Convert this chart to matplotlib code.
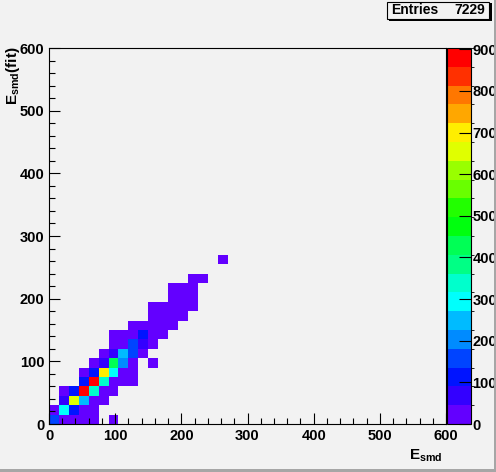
import numpy as np
import matplotlib.pyplot as plt
import colorsys
from matplotlib.colors import ListedColormap, BoundaryNorm
from matplotlib.ticker import MultipleLocator
from matplotlib.patches import Rectangle

plt.rcParams['font.family'] = 'Liberation Sans'
plt.rcParams['font.weight'] = 'bold'
plt.rcParams['mathtext.fontset'] = 'custom'
plt.rcParams['mathtext.rm'] = 'Liberation Sans:bold'
plt.rcParams['mathtext.it'] = 'Liberation Sans:bold'
plt.rcParams['mathtext.bf'] = 'Liberation Sans:bold'

# filled bins (bin index along E_smd, bin index along E_smd(fit), content), 15 units per bin
bin_x = [0, 1, 2, 3, 4, 6,
         0, 1, 2, 3, 4,
         1, 2, 3, 4, 5,
         1, 2, 3, 4, 5, 6,
         3, 4, 5, 6, 7, 8,
         3, 4, 5, 6, 7, 8,
         4, 5, 6, 7, 8, 10,
         5, 6, 7, 8, 9,
         6, 7, 8, 9, 10,
         6, 7, 8, 9, 10, 11,
         8, 9, 10, 11, 12,
         10, 11, 12, 13,
         10, 11, 12, 13, 14,
         12, 13, 14,
         12, 13, 14,
         14, 15,
         17]
bin_y = [0, 0, 0, 0, 0, 0,
         1, 1, 1, 1, 1,
         2, 2, 2, 2, 2,
         3, 3, 3, 3, 3, 3,
         4, 4, 4, 4, 4, 4,
         5, 5, 5, 5, 5, 5,
         6, 6, 6, 6, 6, 6,
         7, 7, 7, 7, 7,
         8, 8, 8, 8, 8,
         9, 9, 9, 9, 9, 9,
         10, 10, 10, 10, 10,
         11, 11, 11, 11,
         12, 12, 12, 12, 12,
         13, 13, 13,
         14, 14, 14,
         15, 15,
         17]
counts = [160, 20, 15, 12, 8, 3,
          12, 290, 110, 15, 10,
          70, 650, 250, 20, 8,
          12, 110, 903, 335, 15, 10,
          120, 903, 340, 15, 8, 5,
          12, 115, 700, 300, 15, 8,
          8, 70, 430, 200, 12, 2,
          12, 65, 250, 160, 15,
          8, 8, 150, 60, 5,
          3, 8, 6, 100, 8, 5,
          2, 5, 8, 6, 3,
          3, 5, 4, 2,
          1, 2, 4, 3, 2,
          2, 3, 2,
          1, 2, 2,
          1, 1,
          1]
entries = 7229
zmax = 903

edges = np.arange(0, 615, 15)
H = np.zeros((len(edges) - 1, len(edges) - 1))
for i, j, c in zip(bin_x, bin_y, counts):
    H[j, i] = c
H = np.ma.masked_where(H <= 0, H)

# ROOT "pretty" palette, 20 contour levels
ncont = 20
cols = []
for k in range(ncont):
    idx = int((k + 0.99) * 50 / ncont)
    hue = 280 - (idx + 1) * 5.6
    cols.append(colorsys.hls_to_rgb(hue / 360.0, 0.5, 1.0))
cmap = ListedColormap(cols)
cmap.set_over(cols[-1])
norm = BoundaryNorm(np.linspace(0, zmax, ncont + 1), ncont)

bg = '#f2f2f2'
W, Hpx = 496, 472
fig = plt.figure(figsize=(W / 100, Hpx / 100), dpi=100, facecolor=bg)
ax = fig.add_axes([49 / W, 48 / Hpx, 397 / W, 376 / Hpx], facecolor=bg)

mesh = ax.pcolormesh(edges, edges, H, cmap=cmap, norm=norm)
ax.set_xlim(0, 600)
ax.set_ylim(0, 600)
ax.xaxis.set_major_locator(MultipleLocator(100))
ax.xaxis.set_minor_locator(MultipleLocator(20))
ax.yaxis.set_major_locator(MultipleLocator(100))
ax.yaxis.set_minor_locator(MultipleLocator(20))
ax.tick_params(which='both', direction='in', top=False, right=False, width=0.8,
               labelsize=10.5, pad=3.5)
ax.tick_params(which='major', length=8)
ax.tick_params(which='minor', length=4.5)
for sp in ax.spines.values():
    sp.set_linewidth(0.8)

cax = fig.add_axes([447 / W, 48 / Hpx, 24 / W, 376 / Hpx])
cb = fig.colorbar(mesh, cax=cax, ticks=np.arange(0, 1000, 100))
cax.set_ylim(0, zmax)
cax.tick_params(direction='in', length=9, width=0.8, labelsize=10.5, pad=1)
cb.outline.set_linewidth(0.8)

fig.text(442 / W, 1 - 464 / Hpx, r'E$_{smd}$', ha='right', va='bottom', fontsize=11)
fig.text(12.5 / W, 1 - 46 / Hpx, r'E$_{smd}$(fit)', ha='center', va='top',
         rotation=90, fontsize=11)

# stats box
fig.patches.append(Rectangle((389 / W, 1 - 21 / Hpx), 103 / W, 18 / Hpx,
                             transform=fig.transFigure, facecolor='black',
                             edgecolor='none', zorder=5))
fig.patches.append(Rectangle((387 / W, 1 - 19 / Hpx), 102 / W, 17 / Hpx,
                             transform=fig.transFigure, facecolor=bg,
                             edgecolor='black', linewidth=0.8, zorder=6))
fig.text(391 / W, 1 - 10.5 / Hpx, 'Entries', ha='left', va='center', fontsize=10, zorder=7)
fig.text(485 / W, 1 - 10.5 / Hpx, str(entries), ha='right', va='center', fontsize=10, zorder=7)

# canvas border
fig.patches.append(Rectangle((0, 0), 1, 3 / Hpx, transform=fig.transFigure,
                             facecolor='#a6a6a6', edgecolor='none'))
fig.patches.append(Rectangle((1 - 2 / W, 0), 2 / W, 1, transform=fig.transFigure,
                             facecolor='#a6a6a6', edgecolor='none'))

fig.savefig('out.png', dpi=100, facecolor=bg)
